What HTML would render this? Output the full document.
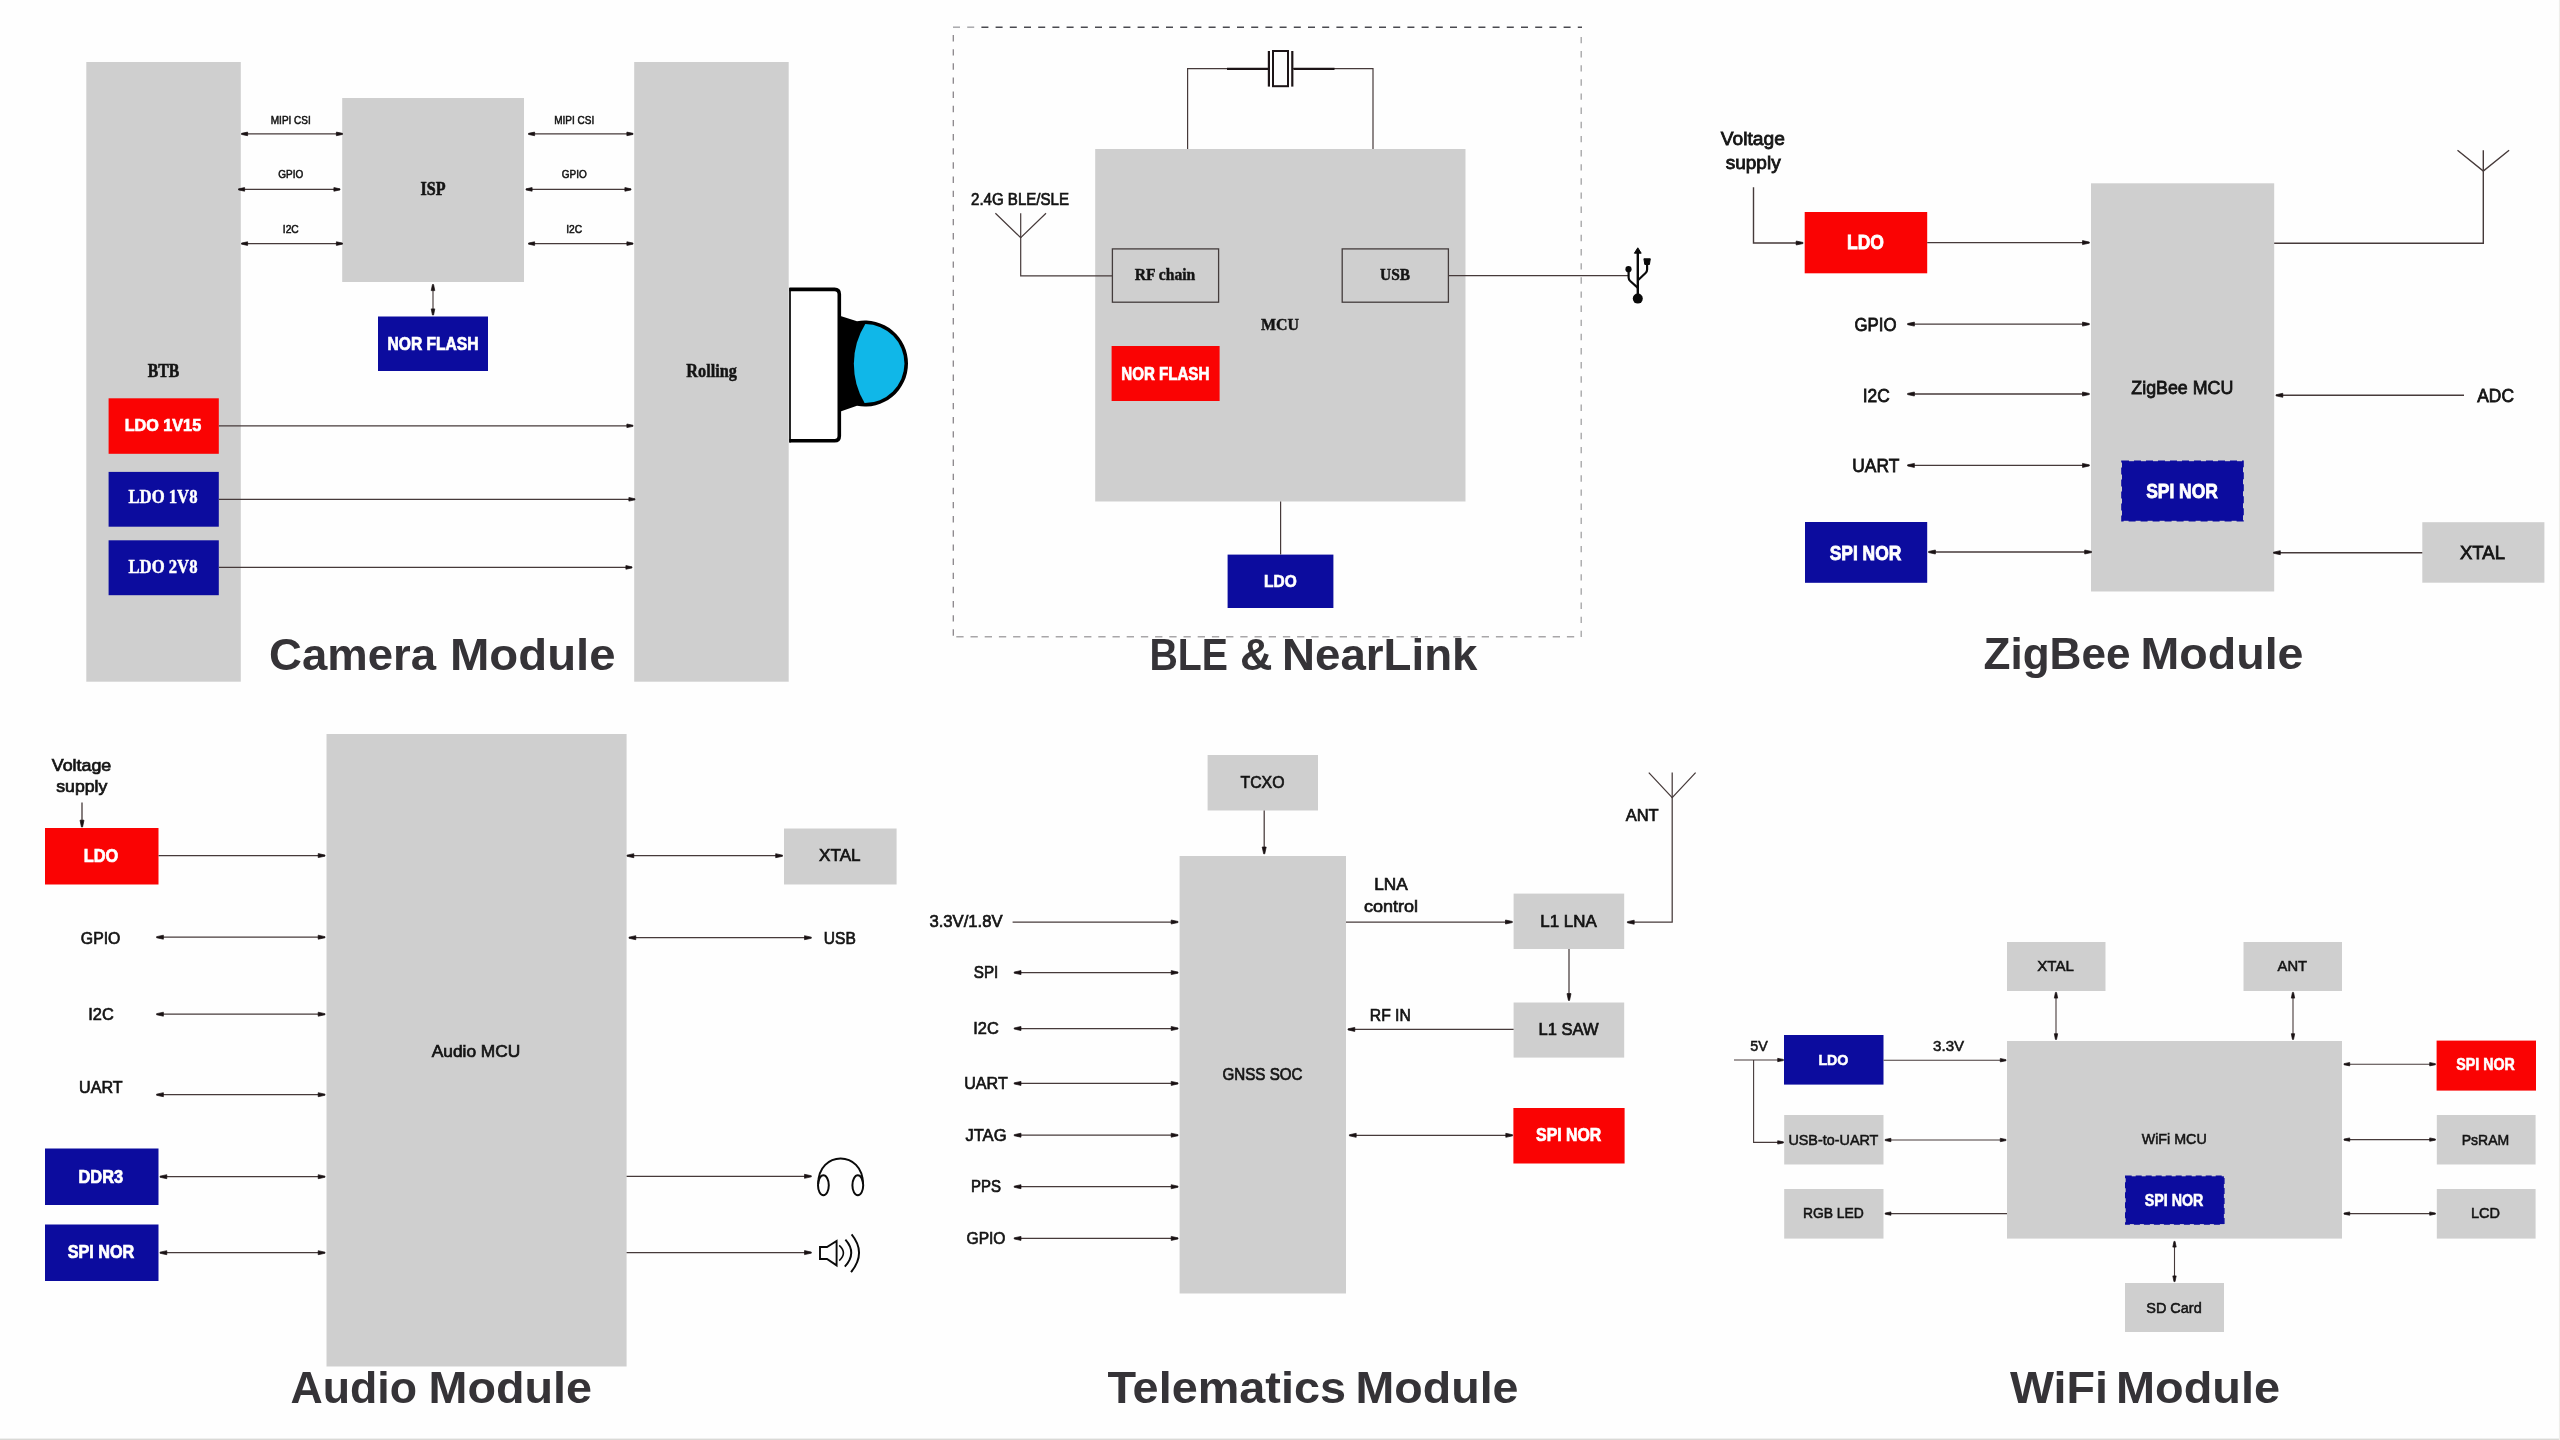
<!DOCTYPE html>
<html lang="en">
<head>
<meta charset="utf-8">
<title>Module block diagrams</title>
<style>
html,body{margin:0;padding:0;background:#fdfdfd;}
body{width:2560px;height:1440px;overflow:hidden;font-family:"Liberation Sans",sans-serif;}
svg{display:block;will-change:transform;}
text{white-space:pre;}
</style>
</head>
<body>
<svg width="2560" height="1440" viewBox="0 0 2560 1440">
<rect x="0" y="0" width="2560" height="1440" fill="#fefefe"/>
<rect x="0" y="1438.6" width="2560" height="1.4" fill="#d9d9d6"/>
<rect x="2558.9" y="0" width="1.1" height="1440" fill="#eeeeeb"/>
<g>
<!-- Camera Module -->
<rect x="86.3" y="62" width="154.5" height="619.7" fill="#cfcfcf" />
<rect x="342.2" y="98" width="181.8" height="184" fill="#cfcfcf" />
<rect x="634.2" y="62" width="154.5" height="619.7" fill="#cfcfcf" />
<rect x="378" y="316.5" width="110" height="54.5" fill="#0c0c9e" />
<rect x="108.6" y="398.3" width="110.2" height="55.5" fill="#fa0303" />
<rect x="108.6" y="471.9" width="110.2" height="54.8" fill="#0c0c9e" />
<rect x="108.6" y="540.3" width="110.2" height="54.9" fill="#0c0c9e" />
<path d="M244.5,133.9 L339.5,133.9" fill="none" stroke="#463a3a" stroke-width="1.15" />
<polygon points="241.5,133.35 241.5,134.45 247.62,135.7 247.62,132.1" fill="#1a1214" stroke="#1a1214" stroke-width="0.7" stroke-linejoin="round"/>
<polygon points="342.5,133.35 342.5,134.45 336.38,135.7 336.38,132.1" fill="#1a1214" stroke="#1a1214" stroke-width="0.7" stroke-linejoin="round"/>
<path d="M241.5,189.4 L337,189.4" fill="none" stroke="#463a3a" stroke-width="1.15" />
<polygon points="238.5,188.85 238.5,189.95 244.62,191.2 244.62,187.6" fill="#1a1214" stroke="#1a1214" stroke-width="0.7" stroke-linejoin="round"/>
<polygon points="340,188.85 340,189.95 333.88,191.2 333.88,187.6" fill="#1a1214" stroke="#1a1214" stroke-width="0.7" stroke-linejoin="round"/>
<path d="M244.5,243.6 L339.5,243.6" fill="none" stroke="#463a3a" stroke-width="1.15" />
<polygon points="241.5,243.05 241.5,244.15 247.62,245.4 247.62,241.8" fill="#1a1214" stroke="#1a1214" stroke-width="0.7" stroke-linejoin="round"/>
<polygon points="342.5,243.05 342.5,244.15 336.38,245.4 336.38,241.8" fill="#1a1214" stroke="#1a1214" stroke-width="0.7" stroke-linejoin="round"/>
<path d="M531.5,133.9 L630,133.9" fill="none" stroke="#463a3a" stroke-width="1.15" />
<polygon points="528.5,133.35 528.5,134.45 534.62,135.7 534.62,132.1" fill="#1a1214" stroke="#1a1214" stroke-width="0.7" stroke-linejoin="round"/>
<polygon points="633,133.35 633,134.45 626.88,135.7 626.88,132.1" fill="#1a1214" stroke="#1a1214" stroke-width="0.7" stroke-linejoin="round"/>
<path d="M529,189.4 L628,189.4" fill="none" stroke="#463a3a" stroke-width="1.15" />
<polygon points="526,188.85 526,189.95 532.12,191.2 532.12,187.6" fill="#1a1214" stroke="#1a1214" stroke-width="0.7" stroke-linejoin="round"/>
<polygon points="631,188.85 631,189.95 624.88,191.2 624.88,187.6" fill="#1a1214" stroke="#1a1214" stroke-width="0.7" stroke-linejoin="round"/>
<path d="M531.5,243.6 L630,243.6" fill="none" stroke="#463a3a" stroke-width="1.15" />
<polygon points="528.5,243.05 528.5,244.15 534.62,245.4 534.62,241.8" fill="#1a1214" stroke="#1a1214" stroke-width="0.7" stroke-linejoin="round"/>
<polygon points="633,243.05 633,244.15 626.88,245.4 626.88,241.8" fill="#1a1214" stroke="#1a1214" stroke-width="0.7" stroke-linejoin="round"/>
<path d="M433,287.5 L433,312" fill="none" stroke="#463a3a" stroke-width="1.15" />
<polygon points="432.45,284.5 433.55,284.5 434.8,290.62 431.2,290.62" fill="#1a1214" stroke="#1a1214" stroke-width="0.7" stroke-linejoin="round"/>
<polygon points="432.45,315 433.55,315 434.8,308.88 431.2,308.88" fill="#1a1214" stroke="#1a1214" stroke-width="0.7" stroke-linejoin="round"/>
<path d="M218.8,425.8 L630,425.8" fill="none" stroke="#463a3a" stroke-width="1.15" />
<polygon points="633,425.25 633,426.35 626.88,427.6 626.88,424" fill="#1a1214" stroke="#1a1214" stroke-width="0.7" stroke-linejoin="round"/>
<path d="M218.8,499.3 L632,499.3" fill="none" stroke="#463a3a" stroke-width="1.15" />
<polygon points="635,498.75 635,499.85 628.88,501.1 628.88,497.5" fill="#1a1214" stroke="#1a1214" stroke-width="0.7" stroke-linejoin="round"/>
<path d="M218.8,567.4 L629,567.4" fill="none" stroke="#463a3a" stroke-width="1.15" />
<polygon points="632,566.85 632,567.95 625.88,569.2 625.88,565.6" fill="#1a1214" stroke="#1a1214" stroke-width="0.7" stroke-linejoin="round"/>
<text x="290.8" y="123.8" font-family="'Liberation Sans', sans-serif" font-size="11.5" font-weight="normal" fill="#141414" text-anchor="middle" textLength="40" lengthAdjust="spacingAndGlyphs" stroke="#141414" stroke-width="0.55">MIPI CSI</text>
<text x="290.8" y="177.8" font-family="'Liberation Sans', sans-serif" font-size="11.5" font-weight="normal" fill="#141414" text-anchor="middle" textLength="25" lengthAdjust="spacingAndGlyphs" stroke="#141414" stroke-width="0.55">GPIO</text>
<text x="290.8" y="233.2" font-family="'Liberation Sans', sans-serif" font-size="11.5" font-weight="normal" fill="#141414" text-anchor="middle" textLength="16" lengthAdjust="spacingAndGlyphs" stroke="#141414" stroke-width="0.55">I2C</text>
<text x="574.2" y="123.8" font-family="'Liberation Sans', sans-serif" font-size="11.5" font-weight="normal" fill="#141414" text-anchor="middle" textLength="40" lengthAdjust="spacingAndGlyphs" stroke="#141414" stroke-width="0.55">MIPI CSI</text>
<text x="574.2" y="177.8" font-family="'Liberation Sans', sans-serif" font-size="11.5" font-weight="normal" fill="#141414" text-anchor="middle" textLength="25" lengthAdjust="spacingAndGlyphs" stroke="#141414" stroke-width="0.55">GPIO</text>
<text x="574.2" y="233.2" font-family="'Liberation Sans', sans-serif" font-size="11.5" font-weight="normal" fill="#141414" text-anchor="middle" textLength="16" lengthAdjust="spacingAndGlyphs" stroke="#141414" stroke-width="0.55">I2C</text>
<text x="163.4" y="377" font-family="'Liberation Serif', serif" font-size="19" font-weight="bold" fill="#141414" text-anchor="middle" textLength="31.5" lengthAdjust="spacingAndGlyphs" stroke="#141414" stroke-width="0.6">BTB</text>
<text x="433" y="195" font-family="'Liberation Serif', serif" font-size="19" font-weight="bold" fill="#141414" text-anchor="middle" textLength="25" lengthAdjust="spacingAndGlyphs" stroke="#141414" stroke-width="0.6">ISP</text>
<text x="711.6" y="376.7" font-family="'Liberation Serif', serif" font-size="18.6" font-weight="bold" fill="#141414" text-anchor="middle" textLength="50.5" lengthAdjust="spacingAndGlyphs" stroke="#141414" stroke-width="0.5">Rolling</text>
<text x="433" y="350.3" font-family="'Liberation Sans', sans-serif" font-size="18" font-weight="bold" fill="#fff" text-anchor="middle" textLength="91" lengthAdjust="spacingAndGlyphs" stroke="#fff" stroke-width="0.7">NOR FLASH</text>
<text x="162.9" y="431" font-family="'Liberation Sans', sans-serif" font-size="17.2" font-weight="bold" fill="#fff" text-anchor="middle" textLength="76.5" lengthAdjust="spacingAndGlyphs" stroke="#fff" stroke-width="0.7">LDO 1V15</text>
<text x="163" y="503" font-family="'Liberation Serif', serif" font-size="18.5" font-weight="bold" fill="#fff" text-anchor="middle" textLength="69" lengthAdjust="spacingAndGlyphs" stroke="#fff" stroke-width="0.45">LDO 1V8</text>
<text x="163" y="573" font-family="'Liberation Serif', serif" font-size="18.5" font-weight="bold" fill="#fff" text-anchor="middle" textLength="69" lengthAdjust="spacingAndGlyphs" stroke="#fff" stroke-width="0.45">LDO 2V8</text>
<path d="M840.5,316 L857,321.3 A43,43 0 1 1 857,405.8 L840.5,411.5 Z" fill="#000"/>
<path d="M865.3,324 A39.5,39.5 0 0 1 864.6,403 A76,76 0 0 1 865.3,324 Z" fill="#10b7e8"/>
<path d="M790,289.4 H834.5 Q839.3,289.4 839.3,294.2 V436 Q839.3,440.8 834.5,440.8 H790 Z" fill="#ffffff" stroke="none"/>
<path d="M789.4,289.4 H834.5 Q839.3,289.4 839.3,294.2 V436 Q839.3,440.8 834.5,440.8 H789.4" fill="none" stroke="#000" stroke-width="3.6" stroke-linejoin="round"/>
<path d="M790,288 V442.4" stroke="#000" stroke-width="1.7" fill="none"/>
<!-- BLE & NearLink -->
<path d="M953,27.3 H1582" fill="none" stroke="#4a4a50" stroke-width="1.5" stroke-dasharray="7 7.2"/>
<path d="M952.8,27.3 H981" fill="none" stroke="#fdfdfd" stroke-opacity="0.55" stroke-width="2.4"/>
<path d="M953.3,35 V637" fill="none" stroke="#8a868a" stroke-width="1.3" stroke-dasharray="6.4 7.75"/>
<path d="M1581.2,36.9 V637" fill="none" stroke="#a2a2a4" stroke-width="1.3" stroke-dasharray="6.4 7.74"/>
<path d="M956.3,636.7 H1580" fill="none" stroke="#a8a6a8" stroke-width="1.4" stroke-dasharray="7.3 6.9"/>
<rect x="1095.2" y="149" width="370.3" height="352.5" fill="#cfcfcf" />
<path d="M1187.6,149 L1187.6,68.6 L1268,68.6" fill="none" stroke="#463a3a" stroke-width="1.2" />
<path d="M1373,149 L1373,68.6 L1293,68.6" fill="none" stroke="#463a3a" stroke-width="1.2" />
<path d="M1227,68.8 L1268,68.8" fill="none" stroke="#1c1416" stroke-width="2.2" />
<path d="M1293.5,68.8 L1334.5,68.8" fill="none" stroke="#1c1416" stroke-width="2.2" />
<path d="M1268.9,51 L1268.9,86.6" fill="none" stroke="#1c1416" stroke-width="2.2" />
<path d="M1292.3,51 L1292.3,86.6" fill="none" stroke="#1c1416" stroke-width="2.2" />
<rect x="1273" y="51" width="15" height="35.2" fill="#fdfdfd" stroke="#1c1416" stroke-width="2"/>
<rect x="1112.4" y="248.9" width="106.2" height="53.3" fill="none" stroke="#443c3c" stroke-width="1.3"/>
<rect x="1342.2" y="248.9" width="106.2" height="53.3" fill="none" stroke="#443c3c" stroke-width="1.3"/>
<text x="1165" y="279.6" font-family="'Liberation Serif', serif" font-size="17" font-weight="bold" fill="#141414" text-anchor="middle" textLength="60.5" lengthAdjust="spacingAndGlyphs" stroke="#141414" stroke-width="0.45">RF chain</text>
<text x="1395" y="279.6" font-family="'Liberation Serif', serif" font-size="17" font-weight="bold" fill="#141414" text-anchor="middle" textLength="30" lengthAdjust="spacingAndGlyphs" stroke="#141414" stroke-width="0.45">USB</text>
<text x="1280" y="330" font-family="'Liberation Serif', serif" font-size="16.5" font-weight="bold" fill="#141414" text-anchor="middle" textLength="38" lengthAdjust="spacingAndGlyphs" stroke="#141414" stroke-width="0.45">MCU</text>
<rect x="1111.6" y="346" width="108" height="55" fill="#fa0303" />
<text x="1165.3" y="379.5" font-family="'Liberation Sans', sans-serif" font-size="17.5" font-weight="bold" fill="#fff" text-anchor="middle" textLength="88" lengthAdjust="spacingAndGlyphs" stroke="#fff" stroke-width="0.7">NOR FLASH</text>
<rect x="1227.6" y="554.6" width="105.8" height="53.4" fill="#0c0c9e" />
<text x="1280.4" y="587" font-family="'Liberation Sans', sans-serif" font-size="17.3" font-weight="bold" fill="#fff" text-anchor="middle" textLength="32.6" lengthAdjust="spacingAndGlyphs" stroke="#fff" stroke-width="0.7">LDO</text>
<path d="M1280.6,501.5 L1280.6,554.6" fill="none" stroke="#463a3a" stroke-width="1.2" />
<path d="M995.4,213.3 L1020.7,237.7 L1046,213.3" fill="none" stroke="#463a3a" stroke-width="1.2" />
<path d="M1020.7,213.3 L1020.7,237.7" fill="none" stroke="#463a3a" stroke-width="1.2" />
<path d="M1020.7,237 L1020.7,275.8 L1112.4,275.8" fill="none" stroke="#463a3a" stroke-width="1.2" />
<text x="1020" y="204.9" font-family="'Liberation Sans', sans-serif" font-size="16.8" font-weight="normal" fill="#141414" text-anchor="middle" textLength="98" lengthAdjust="spacingAndGlyphs" stroke="#141414" stroke-width="0.7">2.4G BLE/SLE</text>
<path d="M1448.4,275.6 L1628,275.6" fill="none" stroke="#463a3a" stroke-width="1.2" />
<g fill="#0a0a0a" stroke="#0a0a0a"><path d="M1637.8,252 V294" stroke-width="2.4" fill="none"/><polygon points="1637.8,247.8 1641.2,253.2 1634.4,253.2" stroke-width="1" stroke-linejoin="round"/><circle cx="1637.8" cy="298.6" r="5" stroke="none"/><circle cx="1628.5" cy="269.2" r="3.1" stroke="none"/><path d="M1628.6,270 V277.6 Q1628.6,279.6 1630.2,281 L1637.6,287.6" stroke-width="2.2" fill="none"/><path d="M1643.9,258.8 H1650.3 L1649.4,264.5 H1644.8 Z" stroke-width="1" stroke-linejoin="round"/><path d="M1647.1,263 V269.6 Q1647.1,271.6 1645.6,273 L1638.2,280" stroke-width="2.2" fill="none"/></g>
<!-- ZigBee Module -->
<rect x="2091" y="183.3" width="183.2" height="408.2" fill="#cfcfcf" />
<rect x="1804.7" y="212" width="122.5" height="61.3" fill="#fa0303" />
<rect x="1805" y="522" width="122.2" height="60.8" fill="#0c0c9e" />
<rect x="2122" y="461.2" width="121" height="59.6" fill="#0c0c9e" stroke="#0c0c9e" stroke-width="1.6" stroke-dasharray="7 5"/>
<rect x="2422.3" y="522.2" width="122.1" height="60.5" fill="#cfcfcf" />
<text x="1752.8" y="145" font-family="'Liberation Sans', sans-serif" font-size="18.4" font-weight="normal" fill="#141414" text-anchor="middle" textLength="64" lengthAdjust="spacingAndGlyphs" stroke="#141414" stroke-width="0.8">Voltage</text>
<text x="1753.2" y="169.4" font-family="'Liberation Sans', sans-serif" font-size="18.4" font-weight="normal" fill="#141414" text-anchor="middle" textLength="55" lengthAdjust="spacingAndGlyphs" stroke="#141414" stroke-width="0.8">supply</text>
<path d="M1753.5,187.2 L1753.5,243 L1797,243" fill="none" stroke="#463a3a" stroke-width="1.4" />
<polygon points="1803,242.45 1803,243.55 1796.2,245 1796.2,241" fill="#1a1214" stroke="#1a1214" stroke-width="0.7" stroke-linejoin="round"/>
<path d="M1927.2,242.6 L2086.3,242.6" fill="none" stroke="#463a3a" stroke-width="1.4" />
<polygon points="2089.3,242.05 2089.3,243.15 2082.5,244.6 2082.5,240.6" fill="#1a1214" stroke="#1a1214" stroke-width="0.7" stroke-linejoin="round"/>
<text x="1875.5" y="330.6" font-family="'Liberation Sans', sans-serif" font-size="19" font-weight="normal" fill="#141414" text-anchor="middle" textLength="42" lengthAdjust="spacingAndGlyphs" stroke="#141414" stroke-width="0.8">GPIO</text>
<text x="1876.2" y="401.9" font-family="'Liberation Sans', sans-serif" font-size="19" font-weight="normal" fill="#141414" text-anchor="middle" textLength="27" lengthAdjust="spacingAndGlyphs" stroke="#141414" stroke-width="0.8">I2C</text>
<text x="1875.8" y="471.9" font-family="'Liberation Sans', sans-serif" font-size="19" font-weight="normal" fill="#141414" text-anchor="middle" textLength="47" lengthAdjust="spacingAndGlyphs" stroke="#141414" stroke-width="0.8">UART</text>
<path d="M1910.6,324.1 L2086.3,324.1" fill="none" stroke="#463a3a" stroke-width="1.4" />
<polygon points="1907.6,323.55 1907.6,324.65 1914.4,326.1 1914.4,322.1" fill="#1a1214" stroke="#1a1214" stroke-width="0.7" stroke-linejoin="round"/>
<polygon points="2089.3,323.55 2089.3,324.65 2082.5,326.1 2082.5,322.1" fill="#1a1214" stroke="#1a1214" stroke-width="0.7" stroke-linejoin="round"/>
<path d="M1910.6,394 L2086.3,394" fill="none" stroke="#463a3a" stroke-width="1.4" />
<polygon points="1907.6,393.45 1907.6,394.55 1914.4,396 1914.4,392" fill="#1a1214" stroke="#1a1214" stroke-width="0.7" stroke-linejoin="round"/>
<polygon points="2089.3,393.45 2089.3,394.55 2082.5,396 2082.5,392" fill="#1a1214" stroke="#1a1214" stroke-width="0.7" stroke-linejoin="round"/>
<path d="M1910.6,465.4 L2086.3,465.4" fill="none" stroke="#463a3a" stroke-width="1.4" />
<polygon points="1907.6,464.85 1907.6,465.95 1914.4,467.4 1914.4,463.4" fill="#1a1214" stroke="#1a1214" stroke-width="0.7" stroke-linejoin="round"/>
<polygon points="2089.3,464.85 2089.3,465.95 2082.5,467.4 2082.5,463.4" fill="#1a1214" stroke="#1a1214" stroke-width="0.7" stroke-linejoin="round"/>
<path d="M1931.6,552 L2088.5,552" fill="none" stroke="#463a3a" stroke-width="1.4" />
<polygon points="1928.6,551.45 1928.6,552.55 1935.4,554 1935.4,550" fill="#1a1214" stroke="#1a1214" stroke-width="0.7" stroke-linejoin="round"/>
<polygon points="2091.5,551.45 2091.5,552.55 2084.7,554 2084.7,550" fill="#1a1214" stroke="#1a1214" stroke-width="0.7" stroke-linejoin="round"/>
<text x="2182.3" y="394" font-family="'Liberation Sans', sans-serif" font-size="19" font-weight="normal" fill="#141414" text-anchor="middle" textLength="102" lengthAdjust="spacingAndGlyphs" stroke="#141414" stroke-width="0.8">ZigBee MCU</text>
<text x="2182" y="497.7" font-family="'Liberation Sans', sans-serif" font-size="20" font-weight="bold" fill="#fff" text-anchor="middle" textLength="71.7" lengthAdjust="spacingAndGlyphs" stroke="#fff" stroke-width="0.8">SPI NOR</text>
<text x="1865.5" y="559.5" font-family="'Liberation Sans', sans-serif" font-size="20" font-weight="bold" fill="#fff" text-anchor="middle" textLength="71.7" lengthAdjust="spacingAndGlyphs" stroke="#fff" stroke-width="0.8">SPI NOR</text>
<text x="1865.5" y="249.4" font-family="'Liberation Sans', sans-serif" font-size="20.5" font-weight="bold" fill="#fff" text-anchor="middle" textLength="37" lengthAdjust="spacingAndGlyphs" stroke="#fff" stroke-width="0.8">LDO</text>
<path d="M2457.5,150.3 L2483.3,171 L2509.1,150.3" fill="none" stroke="#463a3a" stroke-width="1.4" />
<path d="M2483.3,150.3 L2483.3,171" fill="none" stroke="#463a3a" stroke-width="1.4" />
<path d="M2483.3,170 L2483.3,243.2 L2274.2,243.2" fill="none" stroke="#463a3a" stroke-width="1.4" />
<text x="2495.6" y="401.7" font-family="'Liberation Sans', sans-serif" font-size="19" font-weight="normal" fill="#141414" text-anchor="middle" textLength="36.7" lengthAdjust="spacingAndGlyphs" stroke="#141414" stroke-width="0.8">ADC</text>
<path d="M2279,395.3 L2464,395.3" fill="none" stroke="#463a3a" stroke-width="1.4" />
<polygon points="2276,394.75 2276,395.85 2282.8,397.3 2282.8,393.3" fill="#1a1214" stroke="#1a1214" stroke-width="0.7" stroke-linejoin="round"/>
<text x="2482.5" y="559.3" font-family="'Liberation Sans', sans-serif" font-size="19" font-weight="normal" fill="#141414" text-anchor="middle" textLength="45" lengthAdjust="spacingAndGlyphs" stroke="#141414" stroke-width="0.8">XTAL</text>
<path d="M2276.5,552.7 L2422.3,552.7" fill="none" stroke="#463a3a" stroke-width="1.4" />
<polygon points="2273.5,552.15 2273.5,553.25 2280.3,554.7 2280.3,550.7" fill="#1a1214" stroke="#1a1214" stroke-width="0.7" stroke-linejoin="round"/>
<!-- Audio Module -->
<rect x="326.5" y="734" width="300.1" height="632.5" fill="#cfcfcf" />
<rect x="45" y="828" width="113.5" height="56.5" fill="#fa0303" />
<rect x="45" y="1148.5" width="113.5" height="56.5" fill="#0c0c9e" />
<rect x="45" y="1224.5" width="113.5" height="56.5" fill="#0c0c9e" />
<rect x="784" y="828.5" width="112.6" height="56" fill="#cfcfcf" />
<text x="81.5" y="771.2" font-family="'Liberation Sans', sans-serif" font-size="16.2" font-weight="normal" fill="#141414" text-anchor="middle" textLength="59.5" lengthAdjust="spacingAndGlyphs" stroke="#141414" stroke-width="0.7">Voltage</text>
<text x="81.8" y="791.6" font-family="'Liberation Sans', sans-serif" font-size="16.2" font-weight="normal" fill="#141414" text-anchor="middle" textLength="51" lengthAdjust="spacingAndGlyphs" stroke="#141414" stroke-width="0.7">supply</text>
<path d="M82,802.5 L82,824" fill="none" stroke="#463a3a" stroke-width="1.3" />
<polygon points="81.45,827 82.55,827 84,820.2 80,820.2" fill="#1a1214" stroke="#1a1214" stroke-width="0.7" stroke-linejoin="round"/>
<text x="101" y="861.5" font-family="'Liberation Sans', sans-serif" font-size="18.5" font-weight="bold" fill="#fff" text-anchor="middle" textLength="34.5" lengthAdjust="spacingAndGlyphs" stroke="#fff" stroke-width="0.7">LDO</text>
<path d="M158.5,855.6 L322,855.6" fill="none" stroke="#463a3a" stroke-width="1.3" />
<polygon points="325,855.05 325,856.15 318.2,857.6 318.2,853.6" fill="#1a1214" stroke="#1a1214" stroke-width="0.7" stroke-linejoin="round"/>
<text x="100.6" y="943.6" font-family="'Liberation Sans', sans-serif" font-size="17.3" font-weight="normal" fill="#141414" text-anchor="middle" textLength="39.5" lengthAdjust="spacingAndGlyphs" stroke="#141414" stroke-width="0.7">GPIO</text>
<text x="101" y="1020.2" font-family="'Liberation Sans', sans-serif" font-size="17.3" font-weight="normal" fill="#141414" text-anchor="middle" textLength="25.5" lengthAdjust="spacingAndGlyphs" stroke="#141414" stroke-width="0.7">I2C</text>
<text x="100.8" y="1092.8" font-family="'Liberation Sans', sans-serif" font-size="17.3" font-weight="normal" fill="#141414" text-anchor="middle" textLength="43.5" lengthAdjust="spacingAndGlyphs" stroke="#141414" stroke-width="0.7">UART</text>
<path d="M159.6,937.2 L322,937.2" fill="none" stroke="#463a3a" stroke-width="1.3" />
<polygon points="156.6,936.65 156.6,937.75 163.4,939.2 163.4,935.2" fill="#1a1214" stroke="#1a1214" stroke-width="0.7" stroke-linejoin="round"/>
<polygon points="325,936.65 325,937.75 318.2,939.2 318.2,935.2" fill="#1a1214" stroke="#1a1214" stroke-width="0.7" stroke-linejoin="round"/>
<path d="M159.6,1014.2 L322,1014.2" fill="none" stroke="#463a3a" stroke-width="1.3" />
<polygon points="156.6,1013.65 156.6,1014.75 163.4,1016.2 163.4,1012.2" fill="#1a1214" stroke="#1a1214" stroke-width="0.7" stroke-linejoin="round"/>
<polygon points="325,1013.65 325,1014.75 318.2,1016.2 318.2,1012.2" fill="#1a1214" stroke="#1a1214" stroke-width="0.7" stroke-linejoin="round"/>
<path d="M159.6,1094.7 L322,1094.7" fill="none" stroke="#463a3a" stroke-width="1.3" />
<polygon points="156.6,1094.15 156.6,1095.25 163.4,1096.7 163.4,1092.7" fill="#1a1214" stroke="#1a1214" stroke-width="0.7" stroke-linejoin="round"/>
<polygon points="325,1094.15 325,1095.25 318.2,1096.7 318.2,1092.7" fill="#1a1214" stroke="#1a1214" stroke-width="0.7" stroke-linejoin="round"/>
<text x="100.8" y="1182.8" font-family="'Liberation Sans', sans-serif" font-size="17.5" font-weight="bold" fill="#fff" text-anchor="middle" textLength="44.5" lengthAdjust="spacingAndGlyphs" stroke="#fff" stroke-width="0.7">DDR3</text>
<text x="101" y="1258.3" font-family="'Liberation Sans', sans-serif" font-size="17.5" font-weight="bold" fill="#fff" text-anchor="middle" textLength="66.5" lengthAdjust="spacingAndGlyphs" stroke="#fff" stroke-width="0.7">SPI NOR</text>
<path d="M163,1176.7 L322,1176.7" fill="none" stroke="#463a3a" stroke-width="1.3" />
<polygon points="160,1176.15 160,1177.25 166.8,1178.7 166.8,1174.7" fill="#1a1214" stroke="#1a1214" stroke-width="0.7" stroke-linejoin="round"/>
<polygon points="325,1176.15 325,1177.25 318.2,1178.7 318.2,1174.7" fill="#1a1214" stroke="#1a1214" stroke-width="0.7" stroke-linejoin="round"/>
<path d="M163,1252.7 L322,1252.7" fill="none" stroke="#463a3a" stroke-width="1.3" />
<polygon points="160,1252.15 160,1253.25 166.8,1254.7 166.8,1250.7" fill="#1a1214" stroke="#1a1214" stroke-width="0.7" stroke-linejoin="round"/>
<polygon points="325,1252.15 325,1253.25 318.2,1254.7 318.2,1250.7" fill="#1a1214" stroke="#1a1214" stroke-width="0.7" stroke-linejoin="round"/>
<text x="476" y="1056.5" font-family="'Liberation Sans', sans-serif" font-size="17.3" font-weight="normal" fill="#141414" text-anchor="middle" textLength="88.5" lengthAdjust="spacingAndGlyphs" stroke="#141414" stroke-width="0.7">Audio MCU</text>
<path d="M630,855.7 L779.5,855.7" fill="none" stroke="#463a3a" stroke-width="1.3" />
<polygon points="627,855.15 627,856.25 633.8,857.7 633.8,853.7" fill="#1a1214" stroke="#1a1214" stroke-width="0.7" stroke-linejoin="round"/>
<polygon points="782.5,855.15 782.5,856.25 775.7,857.7 775.7,853.7" fill="#1a1214" stroke="#1a1214" stroke-width="0.7" stroke-linejoin="round"/>
<text x="839.8" y="861.4" font-family="'Liberation Sans', sans-serif" font-size="17.3" font-weight="normal" fill="#141414" text-anchor="middle" textLength="41.5" lengthAdjust="spacingAndGlyphs" stroke="#141414" stroke-width="0.7">XTAL</text>
<path d="M632,937.7 L808.3,937.7" fill="none" stroke="#463a3a" stroke-width="1.3" />
<polygon points="629,937.15 629,938.25 635.8,939.7 635.8,935.7" fill="#1a1214" stroke="#1a1214" stroke-width="0.7" stroke-linejoin="round"/>
<polygon points="811.3,937.15 811.3,938.25 804.5,939.7 804.5,935.7" fill="#1a1214" stroke="#1a1214" stroke-width="0.7" stroke-linejoin="round"/>
<text x="839.8" y="943.6" font-family="'Liberation Sans', sans-serif" font-size="17.3" font-weight="normal" fill="#141414" text-anchor="middle" textLength="32" lengthAdjust="spacingAndGlyphs" stroke="#141414" stroke-width="0.7">USB</text>
<path d="M626.6,1176.3 L808.3,1176.3" fill="none" stroke="#463a3a" stroke-width="1.3" />
<polygon points="811.3,1175.75 811.3,1176.85 804.5,1178.3 804.5,1174.3" fill="#1a1214" stroke="#1a1214" stroke-width="0.7" stroke-linejoin="round"/>
<path d="M626.6,1252.6 L808.3,1252.6" fill="none" stroke="#463a3a" stroke-width="1.3" />
<polygon points="811.3,1252.05 811.3,1253.15 804.5,1254.6 804.5,1250.6" fill="#1a1214" stroke="#1a1214" stroke-width="0.7" stroke-linejoin="round"/>
<g fill="none" stroke="#0a0a0a" stroke-width="2"><path d="M818.2,1184 C818.2,1150 863,1150 863,1184"/><ellipse cx="823.4" cy="1185.3" rx="5.4" ry="10"/><ellipse cx="857.8" cy="1185.3" rx="5.4" ry="10"/></g>
<g fill="none" stroke="#0a0a0a" stroke-width="1.9" stroke-linejoin="miter" stroke-linecap="butt"><path d="M820,1247 H827 L836.6,1241 V1265.4 L827,1259 H820 Z"/><path d="M839.2,1245.4 Q847.6,1253 839.2,1260.6" stroke-width="1.6"/><path d="M845.4,1239.6 Q857.4,1253 844.8,1266.6"/><path d="M851.6,1234.4 Q866.8,1253 851,1272.2"/></g>
<!-- Telematics Module -->
<rect x="1179.6" y="856" width="166.4" height="437.5" fill="#cfcfcf" />
<rect x="1207.6" y="755" width="110.4" height="55.5" fill="#cfcfcf" />
<rect x="1513.6" y="893.6" width="110.6" height="55.4" fill="#cfcfcf" />
<rect x="1513.6" y="1002.5" width="110.6" height="55.1" fill="#cfcfcf" />
<rect x="1513.4" y="1108" width="111.2" height="55.5" fill="#fa0303" />
<text x="1262.5" y="788" font-family="'Liberation Sans', sans-serif" font-size="17.3" font-weight="normal" fill="#141414" text-anchor="middle" textLength="44" lengthAdjust="spacingAndGlyphs" stroke="#141414" stroke-width="0.7">TCXO</text>
<path d="M1264.2,810.5 L1264.2,850.8" fill="none" stroke="#463a3a" stroke-width="1.25" />
<polygon points="1263.65,853.8 1264.75,853.8 1266.2,847 1262.2,847" fill="#1a1214" stroke="#1a1214" stroke-width="0.7" stroke-linejoin="round"/>
<text x="1262.5" y="1080" font-family="'Liberation Sans', sans-serif" font-size="17.3" font-weight="normal" fill="#141414" text-anchor="middle" textLength="80" lengthAdjust="spacingAndGlyphs" stroke="#141414" stroke-width="0.7">GNSS SOC</text>
<text x="966" y="926.8" font-family="'Liberation Sans', sans-serif" font-size="17.3" font-weight="normal" fill="#141414" text-anchor="middle" textLength="73" lengthAdjust="spacingAndGlyphs" stroke="#141414" stroke-width="0.7">3.3V/1.8V</text>
<path d="M1012.6,922 L1175,922" fill="none" stroke="#463a3a" stroke-width="1.25" />
<polygon points="1178,921.45 1178,922.55 1171.2,924 1171.2,920" fill="#1a1214" stroke="#1a1214" stroke-width="0.7" stroke-linejoin="round"/>
<text x="986" y="978.2" font-family="'Liberation Sans', sans-serif" font-size="17.3" font-weight="normal" fill="#141414" text-anchor="middle" textLength="24.5" lengthAdjust="spacingAndGlyphs" stroke="#141414" stroke-width="0.7">SPI</text>
<path d="M1017.2,972.6 L1175,972.6" fill="none" stroke="#463a3a" stroke-width="1.25" />
<polygon points="1014.2,972.05 1014.2,973.15 1021,974.6 1021,970.6" fill="#1a1214" stroke="#1a1214" stroke-width="0.7" stroke-linejoin="round"/>
<polygon points="1178,972.05 1178,973.15 1171.2,974.6 1171.2,970.6" fill="#1a1214" stroke="#1a1214" stroke-width="0.7" stroke-linejoin="round"/>
<text x="986" y="1034.1" font-family="'Liberation Sans', sans-serif" font-size="17.3" font-weight="normal" fill="#141414" text-anchor="middle" textLength="25.5" lengthAdjust="spacingAndGlyphs" stroke="#141414" stroke-width="0.7">I2C</text>
<path d="M1017.2,1028.5 L1175,1028.5" fill="none" stroke="#463a3a" stroke-width="1.25" />
<polygon points="1014.2,1027.95 1014.2,1029.05 1021,1030.5 1021,1026.5" fill="#1a1214" stroke="#1a1214" stroke-width="0.7" stroke-linejoin="round"/>
<polygon points="1178,1027.95 1178,1029.05 1171.2,1030.5 1171.2,1026.5" fill="#1a1214" stroke="#1a1214" stroke-width="0.7" stroke-linejoin="round"/>
<text x="986" y="1089" font-family="'Liberation Sans', sans-serif" font-size="17.3" font-weight="normal" fill="#141414" text-anchor="middle" textLength="43.5" lengthAdjust="spacingAndGlyphs" stroke="#141414" stroke-width="0.7">UART</text>
<path d="M1017.2,1083.4 L1175,1083.4" fill="none" stroke="#463a3a" stroke-width="1.25" />
<polygon points="1014.2,1082.85 1014.2,1083.95 1021,1085.4 1021,1081.4" fill="#1a1214" stroke="#1a1214" stroke-width="0.7" stroke-linejoin="round"/>
<polygon points="1178,1082.85 1178,1083.95 1171.2,1085.4 1171.2,1081.4" fill="#1a1214" stroke="#1a1214" stroke-width="0.7" stroke-linejoin="round"/>
<text x="986" y="1140.8" font-family="'Liberation Sans', sans-serif" font-size="17.3" font-weight="normal" fill="#141414" text-anchor="middle" textLength="41" lengthAdjust="spacingAndGlyphs" stroke="#141414" stroke-width="0.7">JTAG</text>
<path d="M1017.2,1135.2 L1175,1135.2" fill="none" stroke="#463a3a" stroke-width="1.25" />
<polygon points="1014.2,1134.65 1014.2,1135.75 1021,1137.2 1021,1133.2" fill="#1a1214" stroke="#1a1214" stroke-width="0.7" stroke-linejoin="round"/>
<polygon points="1178,1134.65 1178,1135.75 1171.2,1137.2 1171.2,1133.2" fill="#1a1214" stroke="#1a1214" stroke-width="0.7" stroke-linejoin="round"/>
<text x="986" y="1192.3" font-family="'Liberation Sans', sans-serif" font-size="17.3" font-weight="normal" fill="#141414" text-anchor="middle" textLength="30" lengthAdjust="spacingAndGlyphs" stroke="#141414" stroke-width="0.7">PPS</text>
<path d="M1017.2,1186.7 L1175,1186.7" fill="none" stroke="#463a3a" stroke-width="1.25" />
<polygon points="1014.2,1186.15 1014.2,1187.25 1021,1188.7 1021,1184.7" fill="#1a1214" stroke="#1a1214" stroke-width="0.7" stroke-linejoin="round"/>
<polygon points="1178,1186.15 1178,1187.25 1171.2,1188.7 1171.2,1184.7" fill="#1a1214" stroke="#1a1214" stroke-width="0.7" stroke-linejoin="round"/>
<text x="986" y="1244" font-family="'Liberation Sans', sans-serif" font-size="17.3" font-weight="normal" fill="#141414" text-anchor="middle" textLength="39" lengthAdjust="spacingAndGlyphs" stroke="#141414" stroke-width="0.7">GPIO</text>
<path d="M1017.2,1238.4 L1175,1238.4" fill="none" stroke="#463a3a" stroke-width="1.25" />
<polygon points="1014.2,1237.85 1014.2,1238.95 1021,1240.4 1021,1236.4" fill="#1a1214" stroke="#1a1214" stroke-width="0.7" stroke-linejoin="round"/>
<polygon points="1178,1237.85 1178,1238.95 1171.2,1240.4 1171.2,1236.4" fill="#1a1214" stroke="#1a1214" stroke-width="0.7" stroke-linejoin="round"/>
<text x="1391" y="890" font-family="'Liberation Sans', sans-serif" font-size="17.3" font-weight="normal" fill="#141414" text-anchor="middle" textLength="33.5" lengthAdjust="spacingAndGlyphs" stroke="#141414" stroke-width="0.7">LNA</text>
<text x="1391" y="912" font-family="'Liberation Sans', sans-serif" font-size="17.3" font-weight="normal" fill="#141414" text-anchor="middle" textLength="54" lengthAdjust="spacingAndGlyphs" stroke="#141414" stroke-width="0.7">control</text>
<path d="M1346,922 L1509.3,922" fill="none" stroke="#463a3a" stroke-width="1.25" />
<polygon points="1512.3,921.45 1512.3,922.55 1505.5,924 1505.5,920" fill="#1a1214" stroke="#1a1214" stroke-width="0.7" stroke-linejoin="round"/>
<text x="1568.5" y="927.3" font-family="'Liberation Sans', sans-serif" font-size="17.3" font-weight="normal" fill="#141414" text-anchor="middle" textLength="56.5" lengthAdjust="spacingAndGlyphs" stroke="#141414" stroke-width="0.7">L1 LNA</text>
<text x="1568.5" y="1034.6" font-family="'Liberation Sans', sans-serif" font-size="17.3" font-weight="normal" fill="#141414" text-anchor="middle" textLength="60" lengthAdjust="spacingAndGlyphs" stroke="#141414" stroke-width="0.7">L1 SAW</text>
<path d="M1569,949 L1569,997.4" fill="none" stroke="#463a3a" stroke-width="1.25" />
<polygon points="1568.45,1000.4 1569.55,1000.4 1571,993.6 1567,993.6" fill="#1a1214" stroke="#1a1214" stroke-width="0.7" stroke-linejoin="round"/>
<text x="1390.3" y="1021.3" font-family="'Liberation Sans', sans-serif" font-size="17.3" font-weight="normal" fill="#141414" text-anchor="middle" textLength="41" lengthAdjust="spacingAndGlyphs" stroke="#141414" stroke-width="0.7">RF IN</text>
<path d="M1351,1029.4 L1513.6,1029.4" fill="none" stroke="#463a3a" stroke-width="1.25" />
<polygon points="1348,1028.85 1348,1029.95 1354.8,1031.4 1354.8,1027.4" fill="#1a1214" stroke="#1a1214" stroke-width="0.7" stroke-linejoin="round"/>
<path d="M1352.4,1135.3 L1509.6,1135.3" fill="none" stroke="#463a3a" stroke-width="1.25" />
<polygon points="1349.4,1134.75 1349.4,1135.85 1356.2,1137.3 1356.2,1133.3" fill="#1a1214" stroke="#1a1214" stroke-width="0.7" stroke-linejoin="round"/>
<polygon points="1512.6,1134.75 1512.6,1135.85 1505.8,1137.3 1505.8,1133.3" fill="#1a1214" stroke="#1a1214" stroke-width="0.7" stroke-linejoin="round"/>
<text x="1568.6" y="1141.3" font-family="'Liberation Sans', sans-serif" font-size="17.5" font-weight="bold" fill="#fff" text-anchor="middle" textLength="65" lengthAdjust="spacingAndGlyphs" stroke="#fff" stroke-width="0.7">SPI NOR</text>
<path d="M1648.8,772.6 L1672.2,797.6 L1695.6,772.6" fill="none" stroke="#463a3a" stroke-width="1.25" />
<path d="M1672.2,772.6 L1672.2,797.6" fill="none" stroke="#463a3a" stroke-width="1.25" />
<path d="M1672.2,797 L1672.2,922.2 L1634,922.2" fill="none" stroke="#463a3a" stroke-width="1.25" />
<polygon points="1627.4,921.65 1627.4,922.75 1634.2,924.2 1634.2,920.2" fill="#1a1214" stroke="#1a1214" stroke-width="0.7" stroke-linejoin="round"/>
<text x="1642.2" y="821.3" font-family="'Liberation Sans', sans-serif" font-size="17.3" font-weight="normal" fill="#141414" text-anchor="middle" textLength="33" lengthAdjust="spacingAndGlyphs" stroke="#141414" stroke-width="0.7">ANT</text>
<!-- WiFi Module -->
<rect x="2007" y="1041" width="335" height="197.6" fill="#cfcfcf" />
<rect x="2007" y="942" width="98.5" height="49" fill="#cfcfcf" />
<rect x="2243.5" y="942" width="98.5" height="49" fill="#cfcfcf" />
<rect x="1784" y="1035" width="99.5" height="49.6" fill="#0c0c9e" />
<rect x="1784.2" y="1115" width="99.3" height="49.5" fill="#cfcfcf" />
<rect x="1784.2" y="1189" width="99.3" height="49.6" fill="#cfcfcf" />
<rect x="2436.6" y="1040.6" width="99.4" height="50" fill="#fa0303" />
<rect x="2436.8" y="1115" width="98.8" height="49.5" fill="#cfcfcf" />
<rect x="2436.8" y="1189" width="98.8" height="49.6" fill="#cfcfcf" />
<rect x="2125" y="1283" width="99" height="49" fill="#cfcfcf" />
<rect x="2125.7" y="1176.3" width="98.2" height="47.8" fill="#0c0c9e" stroke="#0c0c9e" stroke-width="1.4" stroke-dasharray="6 4"/>
<text x="2055.6" y="970.6" font-family="'Liberation Sans', sans-serif" font-size="15.2" font-weight="normal" fill="#141414" text-anchor="middle" textLength="36.5" lengthAdjust="spacingAndGlyphs" stroke="#141414" stroke-width="0.55">XTAL</text>
<text x="2292.3" y="970.6" font-family="'Liberation Sans', sans-serif" font-size="15.2" font-weight="normal" fill="#141414" text-anchor="middle" textLength="29.5" lengthAdjust="spacingAndGlyphs" stroke="#141414" stroke-width="0.55">ANT</text>
<path d="M2056,995.4 L2056,1036.4" fill="none" stroke="#463a3a" stroke-width="1.1" />
<polygon points="2055.45,992.4 2056.55,992.4 2057.68,998.112 2054.32,998.112" fill="#1a1214" stroke="#1a1214" stroke-width="0.7" stroke-linejoin="round"/>
<polygon points="2055.45,1039.4 2056.55,1039.4 2057.68,1033.69 2054.32,1033.69" fill="#1a1214" stroke="#1a1214" stroke-width="0.7" stroke-linejoin="round"/>
<path d="M2293,995.4 L2293,1036.4" fill="none" stroke="#463a3a" stroke-width="1.1" />
<polygon points="2292.45,992.4 2293.55,992.4 2294.68,998.112 2291.32,998.112" fill="#1a1214" stroke="#1a1214" stroke-width="0.7" stroke-linejoin="round"/>
<polygon points="2292.45,1039.4 2293.55,1039.4 2294.68,1033.69 2291.32,1033.69" fill="#1a1214" stroke="#1a1214" stroke-width="0.7" stroke-linejoin="round"/>
<text x="1833.4" y="1064.9" font-family="'Liberation Sans', sans-serif" font-size="15.5" font-weight="bold" fill="#fff" text-anchor="middle" textLength="30" lengthAdjust="spacingAndGlyphs" stroke="#fff" stroke-width="0.55">LDO</text>
<text x="1759" y="1051.3" font-family="'Liberation Sans', sans-serif" font-size="14.6" font-weight="normal" fill="#141414" text-anchor="middle" textLength="17.5" lengthAdjust="spacingAndGlyphs" stroke="#141414" stroke-width="0.55">5V</text>
<text x="1948.6" y="1051.3" font-family="'Liberation Sans', sans-serif" font-size="14.6" font-weight="normal" fill="#141414" text-anchor="middle" textLength="31" lengthAdjust="spacingAndGlyphs" stroke="#141414" stroke-width="0.55">3.3V</text>
<path d="M1734,1060 L1778,1060" fill="none" stroke="#463a3a" stroke-width="1.1" />
<polygon points="1783.4,1059.45 1783.4,1060.55 1777.69,1061.68 1777.69,1058.32" fill="#1a1214" stroke="#1a1214" stroke-width="0.7" stroke-linejoin="round"/>
<path d="M1753.6,1060 L1753.6,1142.4 L1778,1142.4" fill="none" stroke="#463a3a" stroke-width="1.1" />
<polygon points="1783.4,1141.85 1783.4,1142.95 1777.69,1144.08 1777.69,1140.72" fill="#1a1214" stroke="#1a1214" stroke-width="0.7" stroke-linejoin="round"/>
<path d="M1883.5,1060.2 L2003,1060.2" fill="none" stroke="#463a3a" stroke-width="1.1" />
<polygon points="2006,1059.65 2006,1060.75 2000.29,1061.88 2000.29,1058.52" fill="#1a1214" stroke="#1a1214" stroke-width="0.7" stroke-linejoin="round"/>
<text x="1833.4" y="1144.7" font-family="'Liberation Sans', sans-serif" font-size="15.2" font-weight="normal" fill="#141414" text-anchor="middle" textLength="90" lengthAdjust="spacingAndGlyphs" stroke="#141414" stroke-width="0.55">USB-to-UART</text>
<path d="M1888.2,1140 L2003,1140" fill="none" stroke="#463a3a" stroke-width="1.1" />
<polygon points="1885.2,1139.45 1885.2,1140.55 1890.91,1141.68 1890.91,1138.32" fill="#1a1214" stroke="#1a1214" stroke-width="0.7" stroke-linejoin="round"/>
<polygon points="2006,1139.45 2006,1140.55 2000.29,1141.68 2000.29,1138.32" fill="#1a1214" stroke="#1a1214" stroke-width="0.7" stroke-linejoin="round"/>
<text x="1833.4" y="1218.4" font-family="'Liberation Sans', sans-serif" font-size="15.2" font-weight="normal" fill="#141414" text-anchor="middle" textLength="61" lengthAdjust="spacingAndGlyphs" stroke="#141414" stroke-width="0.55">RGB LED</text>
<path d="M1888.2,1213.6 L2007,1213.6" fill="none" stroke="#463a3a" stroke-width="1.1" />
<polygon points="1885.2,1213.05 1885.2,1214.15 1890.91,1215.28 1890.91,1211.92" fill="#1a1214" stroke="#1a1214" stroke-width="0.7" stroke-linejoin="round"/>
<text x="2174.2" y="1144.2" font-family="'Liberation Sans', sans-serif" font-size="15.2" font-weight="normal" fill="#141414" text-anchor="middle" textLength="65" lengthAdjust="spacingAndGlyphs" stroke="#141414" stroke-width="0.55">WiFi MCU</text>
<text x="2174" y="1205.7" font-family="'Liberation Sans', sans-serif" font-size="15.6" font-weight="bold" fill="#fff" text-anchor="middle" textLength="58.5" lengthAdjust="spacingAndGlyphs" stroke="#fff" stroke-width="0.55">SPI NOR</text>
<text x="2485.6" y="1070" font-family="'Liberation Sans', sans-serif" font-size="15.6" font-weight="bold" fill="#fff" text-anchor="middle" textLength="58.5" lengthAdjust="spacingAndGlyphs" stroke="#fff" stroke-width="0.55">SPI NOR</text>
<text x="2485.5" y="1144.7" font-family="'Liberation Sans', sans-serif" font-size="15.2" font-weight="normal" fill="#141414" text-anchor="middle" textLength="47.5" lengthAdjust="spacingAndGlyphs" stroke="#141414" stroke-width="0.55">PsRAM</text>
<text x="2485.5" y="1218.4" font-family="'Liberation Sans', sans-serif" font-size="15.2" font-weight="normal" fill="#141414" text-anchor="middle" textLength="29" lengthAdjust="spacingAndGlyphs" stroke="#141414" stroke-width="0.55">LCD</text>
<path d="M2347,1064.2 L2432.4,1064.2" fill="none" stroke="#463a3a" stroke-width="1.1" />
<polygon points="2344,1063.65 2344,1064.75 2349.71,1065.88 2349.71,1062.52" fill="#1a1214" stroke="#1a1214" stroke-width="0.7" stroke-linejoin="round"/>
<polygon points="2435.4,1063.65 2435.4,1064.75 2429.69,1065.88 2429.69,1062.52" fill="#1a1214" stroke="#1a1214" stroke-width="0.7" stroke-linejoin="round"/>
<path d="M2347,1139.6 L2432.4,1139.6" fill="none" stroke="#463a3a" stroke-width="1.1" />
<polygon points="2344,1139.05 2344,1140.15 2349.71,1141.28 2349.71,1137.92" fill="#1a1214" stroke="#1a1214" stroke-width="0.7" stroke-linejoin="round"/>
<polygon points="2435.4,1139.05 2435.4,1140.15 2429.69,1141.28 2429.69,1137.92" fill="#1a1214" stroke="#1a1214" stroke-width="0.7" stroke-linejoin="round"/>
<path d="M2347,1213.6 L2432.4,1213.6" fill="none" stroke="#463a3a" stroke-width="1.1" />
<polygon points="2344,1213.05 2344,1214.15 2349.71,1215.28 2349.71,1211.92" fill="#1a1214" stroke="#1a1214" stroke-width="0.7" stroke-linejoin="round"/>
<polygon points="2435.4,1213.05 2435.4,1214.15 2429.69,1215.28 2429.69,1211.92" fill="#1a1214" stroke="#1a1214" stroke-width="0.7" stroke-linejoin="round"/>
<text x="2174" y="1312.6" font-family="'Liberation Sans', sans-serif" font-size="15.2" font-weight="normal" fill="#141414" text-anchor="middle" textLength="55.5" lengthAdjust="spacingAndGlyphs" stroke="#141414" stroke-width="0.55">SD Card</text>
<path d="M2174.5,1244.4 L2174.5,1278.6" fill="none" stroke="#463a3a" stroke-width="1.1" />
<polygon points="2173.95,1241.4 2175.05,1241.4 2176.18,1247.11 2172.82,1247.11" fill="#1a1214" stroke="#1a1214" stroke-width="0.7" stroke-linejoin="round"/>
<polygon points="2173.95,1281.6 2175.05,1281.6 2176.18,1275.89 2172.82,1275.89" fill="#1a1214" stroke="#1a1214" stroke-width="0.7" stroke-linejoin="round"/>
<!-- Titles -->
<text x="269.02" y="669.6" font-family="'Liberation Sans', sans-serif" font-size="44" font-weight="bold" fill="#353337" textLength="166.99" lengthAdjust="spacingAndGlyphs">Camera</text>
<text x="449.96" y="669.6" font-family="'Liberation Sans', sans-serif" font-size="44" font-weight="bold" fill="#353337" textLength="165.55" lengthAdjust="spacingAndGlyphs">Module</text>
<text x="1149.52" y="669.8" font-family="'Liberation Sans', sans-serif" font-size="44" font-weight="bold" fill="#353337" textLength="78.48" lengthAdjust="spacingAndGlyphs">BLE</text>
<text x="1240.03" y="669.8" font-family="'Liberation Sans', sans-serif" font-size="44" font-weight="bold" fill="#353337" textLength="32.45" lengthAdjust="spacingAndGlyphs">&amp;</text>
<text x="1282" y="669.8" font-family="'Liberation Sans', sans-serif" font-size="44" font-weight="bold" fill="#353337" textLength="195.5" lengthAdjust="spacingAndGlyphs">NearLink</text>
<text x="1983.5" y="669.4" font-family="'Liberation Sans', sans-serif" font-size="44" font-weight="bold" fill="#353337" textLength="146.99" lengthAdjust="spacingAndGlyphs">ZigBee</text>
<text x="2140.48" y="669.4" font-family="'Liberation Sans', sans-serif" font-size="44" font-weight="bold" fill="#353337" textLength="163.04" lengthAdjust="spacingAndGlyphs">Module</text>
<text x="290.51" y="1403.4" font-family="'Liberation Sans', sans-serif" font-size="44" font-weight="bold" fill="#353337" textLength="126.48" lengthAdjust="spacingAndGlyphs">Audio</text>
<text x="428.49" y="1403.4" font-family="'Liberation Sans', sans-serif" font-size="44" font-weight="bold" fill="#353337" textLength="163.51" lengthAdjust="spacingAndGlyphs">Module</text>
<text x="1107.5" y="1403.2" font-family="'Liberation Sans', sans-serif" font-size="44" font-weight="bold" fill="#353337" textLength="238.49" lengthAdjust="spacingAndGlyphs">Telematics</text>
<text x="1355.48" y="1403.2" font-family="'Liberation Sans', sans-serif" font-size="44" font-weight="bold" fill="#353337" textLength="163.03" lengthAdjust="spacingAndGlyphs">Module</text>
<text x="2009.99" y="1403.4" font-family="'Liberation Sans', sans-serif" font-size="44" font-weight="bold" fill="#353337" textLength="98.02" lengthAdjust="spacingAndGlyphs">WiFi</text>
<text x="2115.98" y="1403.4" font-family="'Liberation Sans', sans-serif" font-size="44" font-weight="bold" fill="#353337" textLength="164.03" lengthAdjust="spacingAndGlyphs">Module</text>
</g>
</svg>
</body>
</html>
